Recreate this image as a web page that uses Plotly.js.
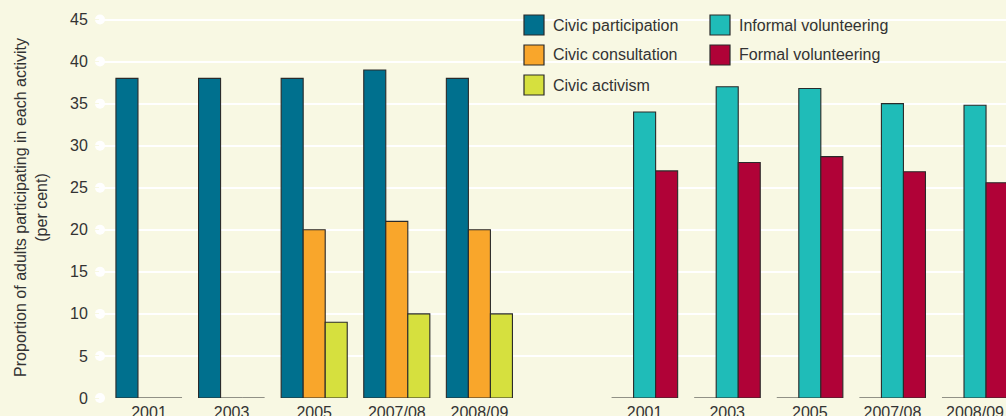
<!DOCTYPE html>
<html>
<head>
<meta charset="utf-8">
<script src="https://cdn.plot.ly/plotly-3.0.1.min.js"></script>
<style>
  html, body { margin: 0; padding: 0; background: #f8f8e3; }
  #chart { width: 1006px; height: 416px; }
</style>
</head>
<body>
<div id="chart"></div>
<script>
// ---- data ----
const categories = ['2001', '2003', '2005', '2007/08', '2008/09'];
const civicParticipation = [38, 38, 38, 39, 38];
const civicConsultation = [0, 0, 20, 21, 20];
const civicActivism = [0, 0, 9, 10, 10];
const volunteeringBlank = [0, 0, 0, 0, 0];
const informalVolunteering = [34, 37, 36.8, 35, 34.8];
const formalVolunteering = [27, 28, 28.7, 26.9, 25.6];
const yTickValues = [0, 5, 10, 15, 20, 25, 30, 35, 40, 45];

const seriesNames = ['Civic participation', 'Civic consultation', 'Civic activism',
                     'Informal volunteering', 'Formal volunteering'];
const colors = ['#00708e', '#f9a62b', '#d6e03e', '#1fbcb8', '#b00237'];

// ---- layout constants ----
const BG = '#f8f8e3';
const TEXT = '#333333';
const FONT = '"Liberation Sans", Arial, Helvetica, sans-serif';
const W = 1006, H = 416;
const M = { l: 100, r: 0, t: 17, b: 18 };
const xRange = [-0.593, 10.375];
const yRange = [0, 45.3];
const outline = { color: '#2a2a2a', width: 1.1 };

const leftX = categories.map((c, i) => i);
const rightX = categories.map((c, i) => i + 6);

function bar(x, y, name, color, group) {
  return {
    type: 'bar', x: x, y: y, name: name, offsetgroup: group,
    marker: { color: color, line: outline },
    showlegend: false, hoverinfo: 'skip'
  };
}

const traces = [
  bar(leftX, civicParticipation, seriesNames[0], colors[0], 'a'),
  bar(leftX, civicConsultation, seriesNames[1], colors[1], 'b'),
  bar(leftX, civicActivism, seriesNames[2], colors[2], 'c'),
  bar(rightX, volunteeringBlank, '', colors[0], 'a'),
  bar(rightX, informalVolunteering, seriesNames[3], colors[3], 'b'),
  bar(rightX, formalVolunteering, seriesNames[4], colors[4], 'c'),
  {
    type: 'scatter', mode: 'markers',
    x: yTickValues.map(() => xRange[0]), y: yTickValues,
    marker: { color: '#ffffff', size: 10 },
    cliponaxis: false, showlegend: false, hoverinfo: 'skip'
  }
];

// pixel -> paper helpers
const pw = W - M.l - M.r, ph = H - M.t - M.b;
const px = v => (v - M.l) / pw;
const py = v => (H - M.b - v) / ph;

// custom legend (20x20 swatches)
const legendCols = [{ sx: 524, tx: 551 }, { sx: 710, tx: 737 }];
const legendRows = [25, 55, 85];
const legendSlots = [[0, 0], [0, 1], [0, 2], [1, 0], [1, 1]];

const shapes = [{
  type: 'rect', xref: 'paper', yref: 'paper', layer: 'between',
  x0: px(516), x1: px(896), y0: py(98), y1: py(-2),
  fillcolor: BG, line: { width: 0 }
}];
const annotations = [];
seriesNames.forEach((name, i) => {
  const [c, r] = legendSlots[i];
  const col = legendCols[c], cy = legendRows[r];
  shapes.push({
    type: 'rect', xref: 'paper', yref: 'paper', layer: 'above',
    x0: px(col.sx), x1: px(col.sx + 20), y0: py(cy + 10), y1: py(cy - 10),
    fillcolor: colors[i], line: { color: '#2a2a2a', width: 1.2 }
  });
  annotations.push({
    xref: 'paper', yref: 'paper', x: px(col.tx), y: py(cy),
    xanchor: 'left', yanchor: 'middle', showarrow: false,
    text: name, font: { family: FONT, size: 16, color: TEXT }
  });
});

const layout = {
  width: W, height: H,
  margin: M,
  paper_bgcolor: BG, plot_bgcolor: BG,
  font: { family: FONT, size: 16, color: TEXT },
  showlegend: false,
  barmode: 'group', bargap: 0.2, bargroupgap: 0,
  xaxis: {
    range: xRange, showgrid: false, zeroline: false, showline: false,
    tickmode: 'array', tickvals: leftX.concat(rightX), ticktext: categories.concat(categories),
    ticks: 'outside', ticklen: 0, tickcolor: BG,
    tickfont: { family: FONT, size: 16, color: TEXT }
  },
  yaxis: {
    range: yRange, showgrid: true, gridcolor: '#ffffff', gridwidth: 2,
    zeroline: false, showline: false,
    tickmode: 'array', tickvals: yTickValues,
    ticks: 'outside', ticklen: 8, tickcolor: BG,
    tickfont: { family: FONT, size: 16, color: TEXT },
    title: {
      text: 'Proportion of adults participating in each activity<br>(per cent)',
      font: { family: FONT, size: 16, color: TEXT },
      standoff: 18
    }
  },
  shapes: shapes,
  annotations: annotations
};

Plotly.newPlot('chart', traces, layout, { displayModeBar: false, staticPlot: true });
</script>
</body>
</html>
